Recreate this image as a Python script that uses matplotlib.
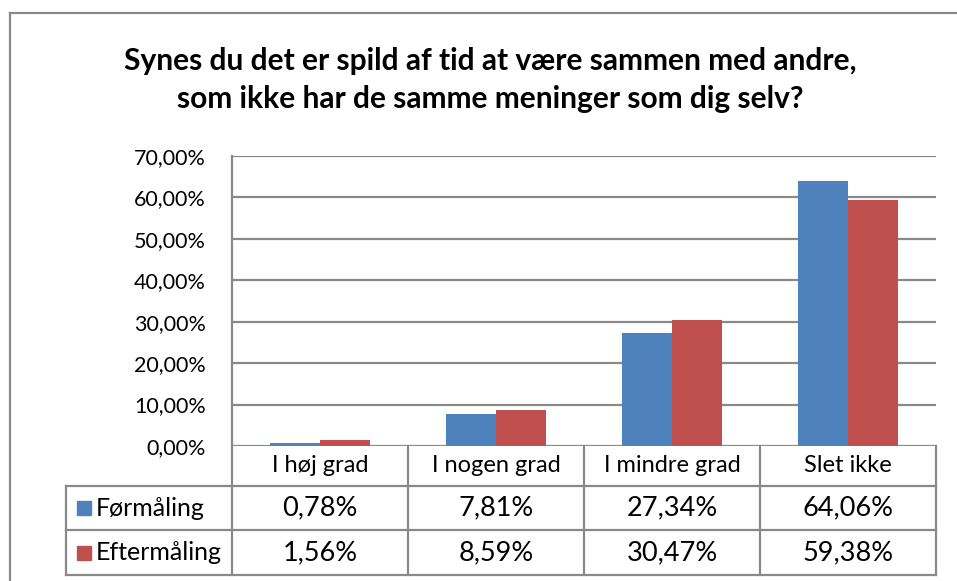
import matplotlib
matplotlib.use("Agg")
import matplotlib.pyplot as plt
from matplotlib.lines import Line2D
from matplotlib.patches import Rectangle
from matplotlib.transforms import Affine2D, blended_transform_factory
from matplotlib.ticker import FuncFormatter
import numpy as np

plt.rcParams['font.family'] = ['Lato', 'DejaVu Sans']

title = "Synes du det er spild af tid at være sammen med andre,\nsom ikke har de samme meninger som dig selv?"
categories = ["I høj grad", "I nogen grad", "I mindre grad", "Slet ikke"]
series = ["Førmåling", "Eftermåling"]
foer = [0.78, 7.81, 27.34, 64.06]
efter = [1.56, 8.59, 30.47, 59.38]
colors = ["#4F81BD", "#C0504D"]
grid_col = "#898989"

W, H = 957, 581
fig = plt.figure(figsize=(W / 100, H / 100), dpi=100)
# pixel coordinates, origin top-left
pix = Affine2D().scale(1 / W, -1 / H).translate(0, 1) + fig.transFigure

def hline(y, x0, x1, **kw):
    fig.add_artist(Line2D([x0, x1], [y, y], transform=pix, color=grid_col, lw=1.6, **kw))

def vline(x, y0, y1, **kw):
    fig.add_artist(Line2D([x, x], [y0, y1], transform=pix, color=grid_col, lw=1.6, **kw))

# chart frame
hline(13, 10, W)
vline(10, 13, H)

fig.text(490 / W, 1 - 80 / H, title, ha="center", va="center", fontsize=21.5,
         fontweight="bold", linespacing=1.42)

# plot area
left, top, right, bottom = 232, 156, 936, 446
ax = fig.add_axes([left / W, 1 - bottom / H, (right - left) / W, (bottom - top) / H])
x = np.arange(len(categories))
bw = 0.285
ax.bar(x - bw / 2, np.array(foer) / 100, bw, color=colors[0], zorder=3)
ax.bar(x + bw / 2, np.array(efter) / 100, bw, color=colors[1], zorder=3)
ax.set_xlim(-0.5, len(categories) - 0.5)
ax.set_ylim(0, 0.70)
ax.set_yticks(np.arange(0, 0.71, 0.10))
ax.yaxis.set_major_formatter(FuncFormatter(lambda v, p: f"{v * 100:.2f}%".replace(".", ",")))
ax.tick_params(axis="y", length=0, pad=19, labelsize=15.5)
ax.set_xticks([])
ax.yaxis.grid(True, color=grid_col, lw=1.6, zorder=0)
for s in ax.spines.values():
    s.set_visible(False)

# data table under the plot
row_y = [446, 486, 530, 575]
hline(row_y[1], 66, right)
hline(row_y[2], 66, right)
hline(row_y[3], 66, right)
vline(left, top, row_y[3])
vline(right, bottom, row_y[3])
vline(66, row_y[1], row_y[3])
for i in range(1, len(categories)):
    bx = left + (right - left) * i / len(categories)
    vline(bx, bottom, row_y[3])

tx = blended_transform_factory(ax.transData, pix)
for i, c in enumerate(categories):
    fig.text(x[i], (row_y[0] + row_y[1]) / 2, c, transform=tx, ha="center",
             va="center", fontsize=17)
for r, vals in enumerate([foer, efter]):
    yc = (row_y[r + 1] + row_y[r + 2]) / 2
    for i, v in enumerate(vals):
        fig.text(x[i], yc, f"{v:.2f}%".replace(".", ","), transform=tx,
                 ha="center", va="center", fontsize=19.5)
    fig.add_artist(Rectangle((77, yc - 7), 14, 14, transform=pix, color=colors[r]))
    fig.text(96, yc, series[r], transform=pix, ha="left", va="center", fontsize=18)

fig.savefig("out.png", dpi=100)
